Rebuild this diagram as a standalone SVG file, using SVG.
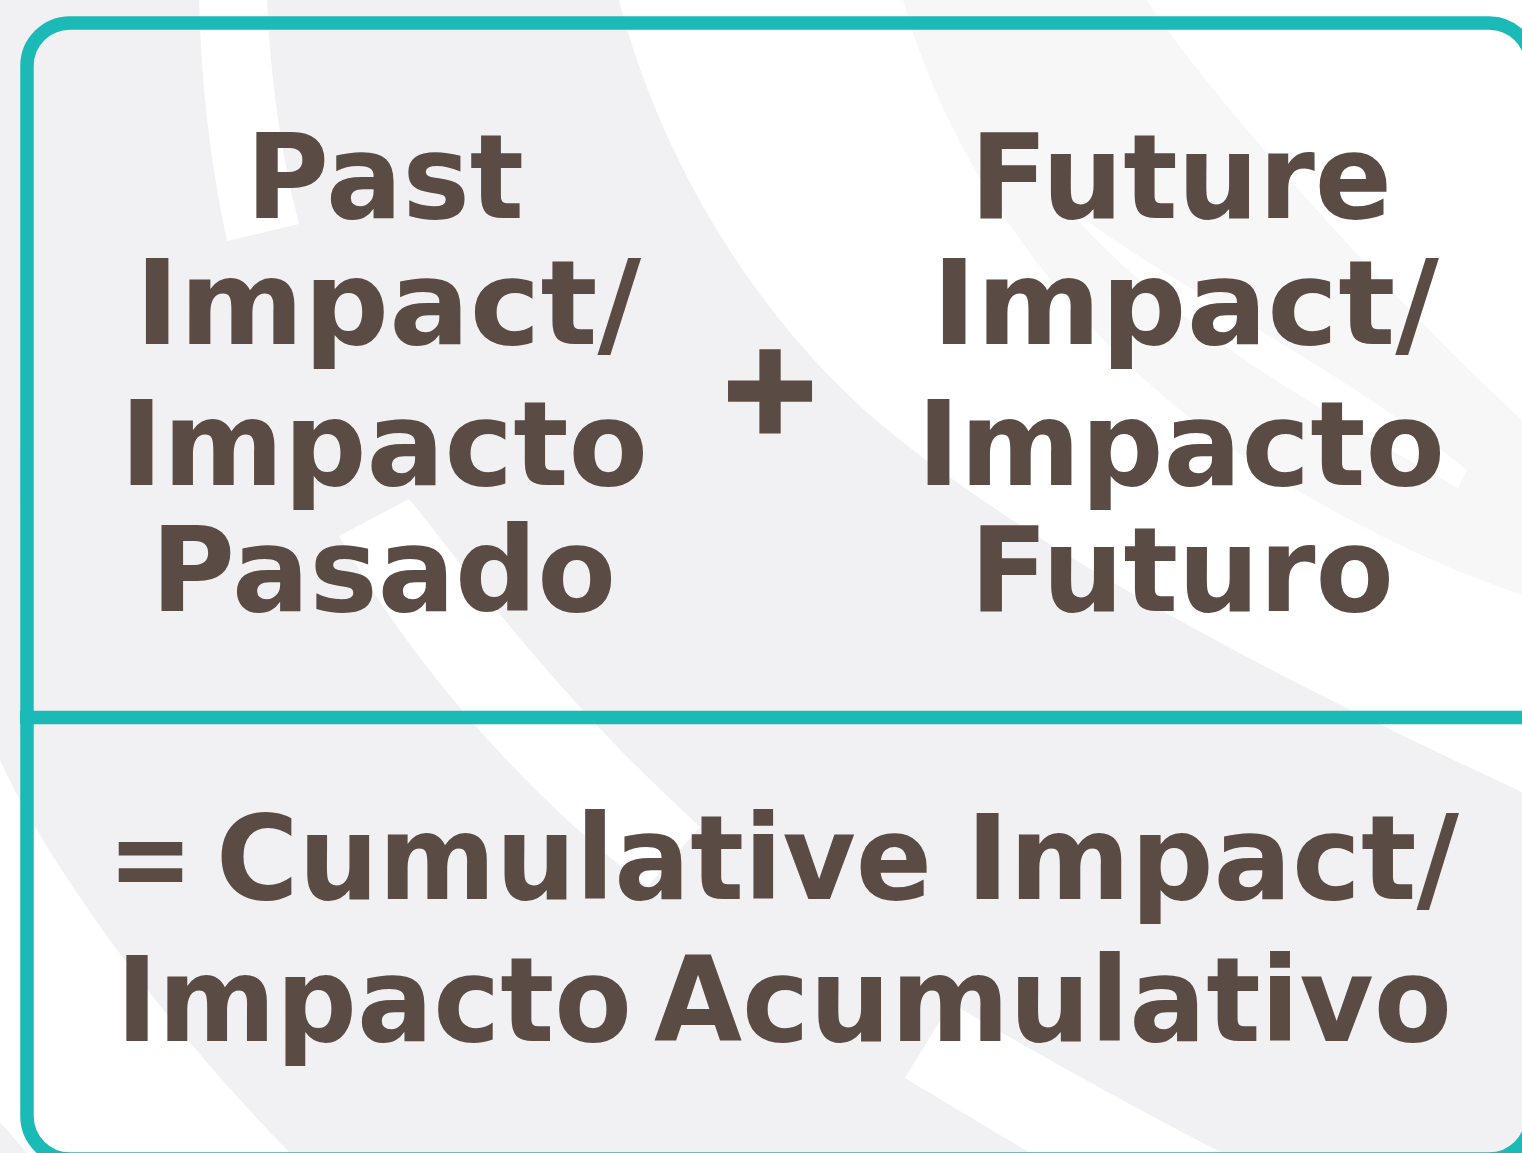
<svg xmlns="http://www.w3.org/2000/svg" width="1522" height="1153" viewBox="0 0 1522 1153">
  <style>
    .bg { fill: #f1f1f3; }
    .wh { fill: #ffffff; }
    .lt { fill: #f7f7f8; }
    .frame { fill: none; stroke: #1bbab7; stroke-width: 13.5; }
    .lbl { font-family: "DejaVu Sans", "Liberation Sans", sans-serif; font-weight: bold; font-size: 118px; fill: #5a4c44; }
    .op { stroke: #5a4c44; stroke-width: 7; }
  </style>
  <g id="background">
    <rect class="bg" x="0" y="0" width="1522" height="1153"/>
    <path class="wh" d="M199,0 L267,0 Q272,120 299,224 L227,241 Q202,125 199,0 Z"/>
    <path class="wh" d="M619,0 C660,160 760,330 900,440 C1060,565 1280,680 1522,792 L1522,0 Z"/>
    <path class="lt" d="M1147,0 C1190,70 1370,280 1522,420 L1522,595 C1450,570 1380,540 1280,480 C1080,360 950,170 903,0 Z"/>
    <path class="wh" d="M1060,200 C1150,275 1330,360 1467,470 L1458,488 C1320,410 1160,320 1060,200 Z"/>
    <path class="wh" d="M409,499 C460,560 540,680 700,827 L647,887 C520,790 410,660 339,536 Z"/>
    <path class="wh" d="M0,760 C40,850 150,1010 290,1153 L27,1153 L0,1122 Z"/>
    <path class="wh" d="M951,1003 Q1090,1085 1222,1153 L1030,1153 L905,1078 Z"/>
  </g>
  <g id="frame">
    <rect class="frame" x="27" y="23" width="1505" height="1136" rx="43" ry="43"/>
    <line class="frame" x1="20" y1="717.5" x2="1522" y2="717.5"/>
  </g>
  <g id="node-past">
    <text class="lbl" x="246" y="218" textLength="278" lengthAdjust="spacingAndGlyphs">Past</text>
    <text class="lbl" x="135" y="344" textLength="506" lengthAdjust="spacingAndGlyphs">Impact/</text>
    <text class="lbl" x="120" y="485" textLength="528" lengthAdjust="spacingAndGlyphs">Impacto</text>
    <text class="lbl" x="151" y="611" textLength="465" lengthAdjust="spacingAndGlyphs">Pasado</text>
  </g>
  <g id="node-plus">
    <text class="lbl op" x="770" y="430" text-anchor="middle" style="font-size:123px">+</text>
  </g>
  <g id="node-future">
    <text class="lbl" x="970" y="218" textLength="422" lengthAdjust="spacingAndGlyphs">Future</text>
    <text class="lbl" x="932" y="344" textLength="507" lengthAdjust="spacingAndGlyphs">Impact/</text>
    <text class="lbl" x="917" y="485" textLength="528" lengthAdjust="spacingAndGlyphs">Impacto</text>
    <text class="lbl" x="970" y="611" textLength="424" lengthAdjust="spacingAndGlyphs">Futuro</text>
  </g>
  <g id="node-result">
    <text class="lbl" x="108" y="899" textLength="85" lengthAdjust="spacingAndGlyphs">=</text>
    <text class="lbl" x="216" y="899" textLength="716" lengthAdjust="spacingAndGlyphs">Cumulative</text>
    <text class="lbl" x="966" y="899" textLength="493" lengthAdjust="spacingAndGlyphs">Impact/</text>
    <text class="lbl" x="116" y="1041" textLength="516" lengthAdjust="spacingAndGlyphs">Impacto</text>
    <text class="lbl" x="654" y="1041" textLength="798" lengthAdjust="spacingAndGlyphs">Acumulativo</text>
  </g>
</svg>
